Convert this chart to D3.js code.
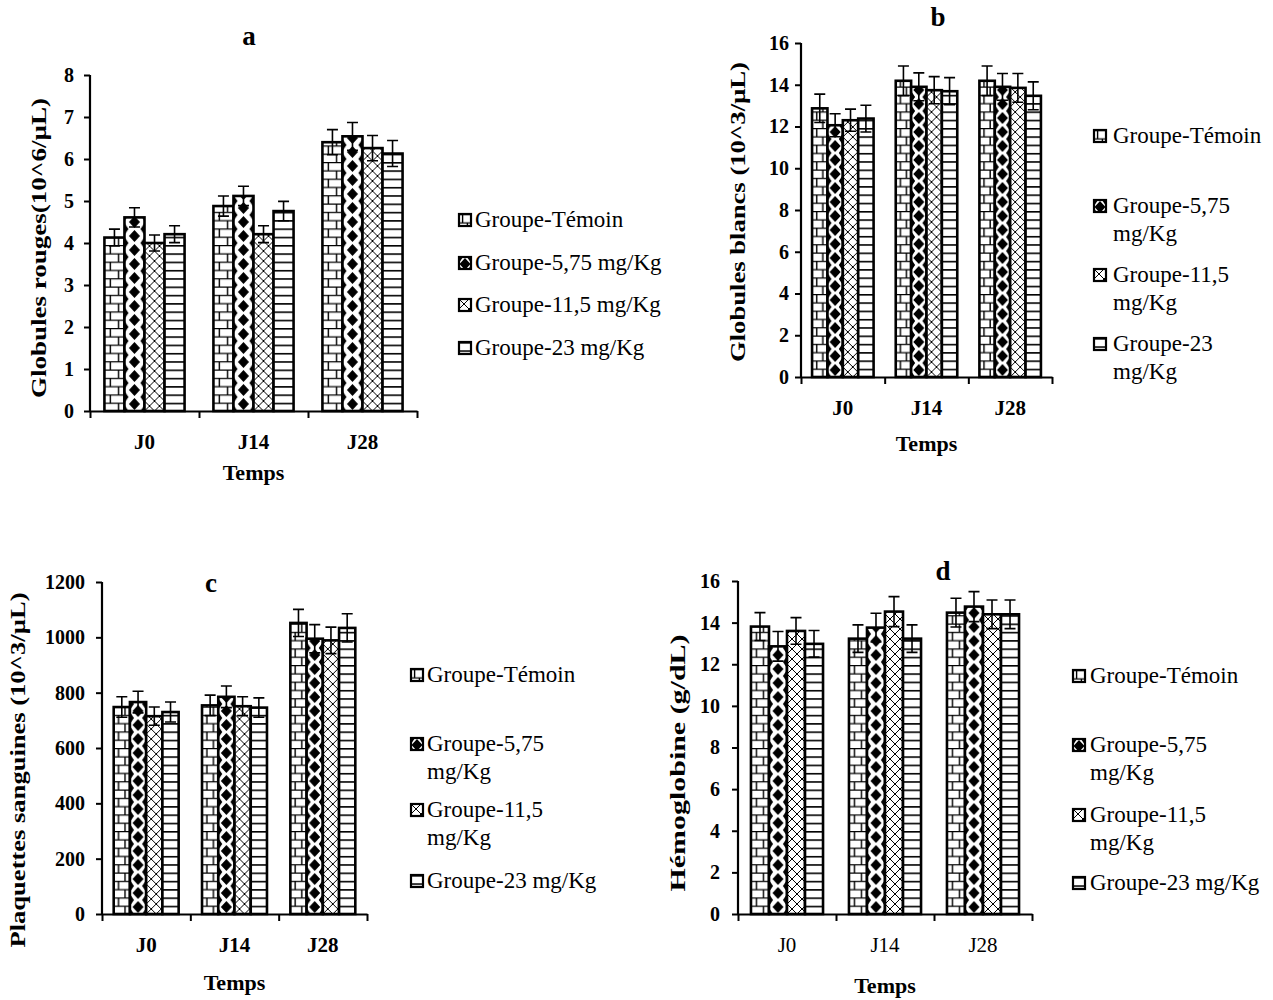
<!DOCTYPE html>
<html>
<head>
<meta charset="utf-8">
<script src="https://cdn.jsdelivr.net/npm/d3@7"></script>
<style>
  body { margin: 0; background: #fff; }
  svg { display: block; font-family: "Liberation Serif", "Times New Roman", serif; }
</style>
</head>
<body>
<svg id="chart" width="1273" height="1000"></svg>
<script>
// data
const categories = ['J0', 'J14', 'J28'];
const groups = ['Groupe-Témoin', 'Groupe-5,75 mg/Kg', 'Groupe-11,5 mg/Kg', 'Groupe-23 mg/Kg'];

// a - globules rouges
const rbcMean = [[4.13, 4.88, 6.40], [4.61, 5.12, 6.54], [4.00, 4.21, 6.26], [4.21, 4.76, 6.13]];
const rbcErr = [[0.20, 0.24, 0.30], [0.23, 0.23, 0.33], [0.19, 0.20, 0.30], [0.20, 0.23, 0.31]];
const rbcTicks = [0, 1, 2, 3, 4, 5, 6, 7, 8];

// b - globules blancs
const wbcMean = [[12.87, 14.19, 14.19], [12.06, 13.90, 13.90], [12.30, 13.74, 13.85], [12.38, 13.69, 13.47]];
const wbcErr = [[0.68, 0.71, 0.71], [0.55, 0.67, 0.64], [0.53, 0.65, 0.69], [0.64, 0.65, 0.67]];
const wbcTicks = [0, 2, 4, 6, 8, 10, 12, 14, 16];

// c - plaquettes
const pltMean = [[748, 754, 1052], [766, 785, 995], [715, 751, 989], [730, 746, 1034]];
const pltErr = [[37, 37, 49], [39, 39, 51], [33, 34, 48], [36, 35, 51]];
const pltTicks = [0, 200, 400, 600, 800, 1000, 1200];

// d - hemoglobine
const hbMean = [[13.81, 13.23, 14.48], [12.86, 13.76, 14.77], [13.60, 14.53, 14.40], [12.98, 13.23, 14.40]];
const hbErr = [[0.67, 0.66, 0.69], [0.71, 0.69, 0.72], [0.64, 0.72, 0.69], [0.64, 0.66, 0.69]];
const hbTicks = [0, 2, 4, 6, 8, 10, 12, 14, 16];

// legend text as it wraps in each panel
const legendOneLine = [['Groupe-Témoin'], ['Groupe-5,75 mg/Kg'], ['Groupe-11,5 mg/Kg'], ['Groupe-23 mg/Kg']];
const legendWrapped = [['Groupe-Témoin'], ['Groupe-5,75', 'mg/Kg'], ['Groupe-11,5', 'mg/Kg'], ['Groupe-23', 'mg/Kg']];
const legendWrappedC = [['Groupe-Témoin'], ['Groupe-5,75', 'mg/Kg'], ['Groupe-11,5', 'mg/Kg'], ['Groupe-23 mg/Kg']];

const panels = [
  { id: 'a', mean: rbcMean, err: rbcErr, ticks: rbcTicks, label: 'Globules rouges(10^6/µL)', legend: legendOneLine,
    x0: 90, x1: 417, yTop: 75, yBot: 411, tickPad: 10, title: [249, 45],
    yl: [46, 248, 300], temps: 480, catBold: true,
    lx: 459, tx: 475, ly: [227, 270, 312, 355] },
  { id: 'b', mean: wbcMean, err: wbcErr, ticks: wbcTicks, label: 'Globules blancs (10^3/µL)', legend: legendWrapped,
    x0: 801, x1: 1052, yTop: 43, yBot: 377, tickPad: 6, title: [938, 26],
    yl: [745, 212, 300], temps: 451, catBold: true,
    lx: 1094, tx: 1113, ly: [143, 213, 282, 351] },
  { id: 'c', mean: pltMean, err: pltErr, ticks: pltTicks, label: 'Plaquettes sanguines (10^3/µL)', legend: legendWrappedC,
    x0: 102, x1: 367, yTop: 582, yBot: 914, tickPad: 11, title: [211, 592],
    yl: [25, 770, 355], temps: 990, catBold: true,
    lx: 411, tx: 427, ly: [682, 751, 817, 888] },
  { id: 'd', mean: hbMean, err: hbErr, ticks: hbTicks, label: 'Hémoglobine (g/dL)', legend: legendWrapped.slice(0, 3).concat([['Groupe-23 mg/Kg']]),
    x0: 738, x1: 1032, yTop: 581, yBot: 914, tickPad: 12, title: [943, 580],
    yl: [685, 763, 257], temps: 993, catBold: false,
    lx: 1073, tx: 1090, ly: [683, 752, 822, 890] }
];

const svg = d3.select('#chart');
const defs = svg.append('defs');

// draws the hatch of one series inside a pattern tile
function patternTile(p, s, w) {
  if (s === 0) {          // brick
    p.attr('width', w).attr('height', 16.6);
    p.append('path').attr('d', `M0,0.6H${w}M0,8.9H${w}M${w * 0.3},0V8.3M${w * 0.7},8.3V16.6`)
      .attr('stroke', '#000').attr('stroke-width', 1.4).attr('fill', 'none');
  } else if (s === 1) {   // black diamonds, staggered
    const h = 14, rx = 5.5, ry = 6, ex = 4;
    p.attr('width', w).attr('height', h);
    const dia = (cx, cy, a, b) => `M${cx},${cy - b}L${cx + a},${cy}L${cx},${cy + b}L${cx - a},${cy}Z`;
    p.append('path')
      .attr('d', dia(w / 2, h / 2, rx, ry) + dia(0, 0, ex, ry) + dia(w, 0, ex, ry) + dia(0, h, ex, ry) + dia(w, h, ex, ry))
      .attr('fill', '#000');
  } else if (s === 2) {   // diagonal cross
    p.attr('width', 10).attr('height', 10);
    p.append('path').attr('d', 'M0,0L10,10M10,0L0,10')
      .attr('stroke', '#000').attr('stroke-width', 1).attr('fill', 'none');
  } else {                // horizontal lines
    p.attr('width', w).attr('height', 8.3);
    p.append('path').attr('d', `M0,0.8H${w}`)
      .attr('stroke', '#000').attr('stroke-width', 1.6).attr('fill', 'none');
  }
}

panels.forEach(P => {
  const g = svg.append('g').attr('class', 'panel-' + P.id);
  const yMax = P.ticks[P.ticks.length - 1];

  const y = d3.scaleLinear().domain([0, yMax]).range([P.yBot, P.yTop]);
  const x = d3.scaleBand().domain(categories).range([P.x0, P.x1]);
  const xs = d3.scaleBand().domain(d3.range(groups.length)).range([0, x.bandwidth()]).paddingOuter(0.72);
  const bw = xs.bandwidth();

  const bars = [];
  P.mean.forEach((vals, s) => vals.forEach((v, c) => {
    bars.push({ s, c, v, e: P.err[s][c], x: x(categories[c]) + xs(s), pid: `p${P.id}-${s}-${c}` });
  }));

  // one pattern per bar so the hatch lines up with the bar edge
  defs.selectAll(null).data(bars).join('pattern')
    .attr('id', d => d.pid)
    .attr('patternUnits', 'userSpaceOnUse')
    .attr('x', d => d.x).attr('y', P.yBot)
    .each(function (d) {
      const p = d3.select(this);
      p.append('rect').attr('width', 200).attr('height', 200).attr('fill', '#fff');
      patternTile(p, d.s, bw);
    });

  g.selectAll('.bar').data(bars).join('rect')
    .attr('class', 'bar')
    .attr('x', d => d.x).attr('y', d => y(d.v))
    .attr('width', bw).attr('height', d => y(0) - y(d.v))
    .attr('fill', d => `url(#${d.pid})`)
    .attr('stroke', '#000').attr('stroke-width', 2.6);

  // error bars
  const cap = 5.5;
  g.selectAll('.err').data(bars).join('path')
    .attr('class', 'err')
    .attr('d', d => {
      const cx = d.x + bw / 2, t = y(d.v + d.e), b = y(d.v - d.e);
      return `M${cx},${t}V${b}M${cx - cap},${t}H${cx + cap}M${cx - cap},${b}H${cx + cap}`;
    })
    .attr('stroke', '#000').attr('stroke-width', 1.6).attr('fill', 'none');

  // y axis
  const ya = g.append('g').attr('transform', `translate(${P.x0},0)`)
    .call(d3.axisLeft(y).tickValues(P.ticks).tickFormat(d3.format('d'))
      .tickSize(6).tickSizeOuter(0).tickPadding(P.tickPad));
  ya.select('.domain').attr('stroke-width', 2.2).attr('d', `M0,${P.yBot + 1}V${P.yTop}`);
  ya.selectAll('.tick line').attr('stroke-width', 2);
  ya.selectAll('.tick text').attr('font-family', '"Liberation Serif", serif')
    .attr('font-size', 20).attr('font-weight', 'bold').attr('fill', '#000');

  // x axis: boundary ticks + category labels
  const xb = d3.scaleLinear().domain([0, categories.length]).range([P.x0, P.x1]);
  const xa = g.append('g').attr('transform', `translate(0,${P.yBot})`)
    .call(d3.axisBottom(xb).tickValues(d3.range(categories.length + 1)).tickFormat('').tickSize(7).tickSizeOuter(0));
  xa.select('.domain').attr('stroke-width', 2.2);
  xa.selectAll('.tick line').attr('stroke-width', 2);

  const xl = g.append('g').attr('transform', `translate(0,${P.yBot})`)
    .call(d3.axisBottom(x).tickSize(0).tickPadding(23));
  xl.select('.domain').remove();
  xl.selectAll('.tick text').attr('font-family', '"Liberation Serif", serif')
    .attr('font-size', 21).attr('font-weight', P.catBold ? 'bold' : 'normal').attr('fill', '#000');

  g.append('text').attr('x', (P.x0 + P.x1) / 2).attr('y', P.temps)
    .attr('text-anchor', 'middle').attr('font-size', 22).attr('font-weight', 'bold').text('Temps');

  g.append('text').attr('x', P.title[0]).attr('y', P.title[1])
    .attr('text-anchor', 'middle').attr('font-size', 27).attr('font-weight', 'bold').text(P.id);

  g.append('text')
    .attr('transform', `translate(${P.yl[0]},${P.yl[1]}) rotate(-90)`)
    .attr('text-anchor', 'middle').attr('font-size', 22).attr('font-weight', 'bold')
    .attr('textLength', P.yl[2]).attr('lengthAdjust', 'spacingAndGlyphs')
    .text(P.label);

  // legend
  const items = P.legend.map((lines, s) => ({ s, lines, y: P.ly[s], pid: `lg${P.id}-${s}` }));
  defs.selectAll(null).data(items).join('pattern')
    .attr('id', d => d.pid)
    .attr('patternUnits', 'userSpaceOnUse')
    .attr('x', P.lx).attr('y', d => d.y - 13)
    .each(function (d) {
      const p = d3.select(this);
      p.append('rect').attr('width', 200).attr('height', 200).attr('fill', '#fff');
      patternTile(p, d.s, 12);
    });
  const li = g.selectAll('.leg').data(items).join('g').attr('class', 'leg');
  li.append('rect').attr('x', P.lx).attr('y', d => d.y - 13).attr('width', 12).attr('height', 12)
    .attr('fill', d => `url(#${d.pid})`).attr('stroke', '#000').attr('stroke-width', 2.2);
  li.each(function (d) {
    d3.select(this).selectAll('text').data(d.lines).join('text')
      .attr('x', P.tx).attr('y', (t, i) => d.y + i * 28)
      .attr('font-size', 23).text(t => t);
  });
});
</script>
</body>
</html>
